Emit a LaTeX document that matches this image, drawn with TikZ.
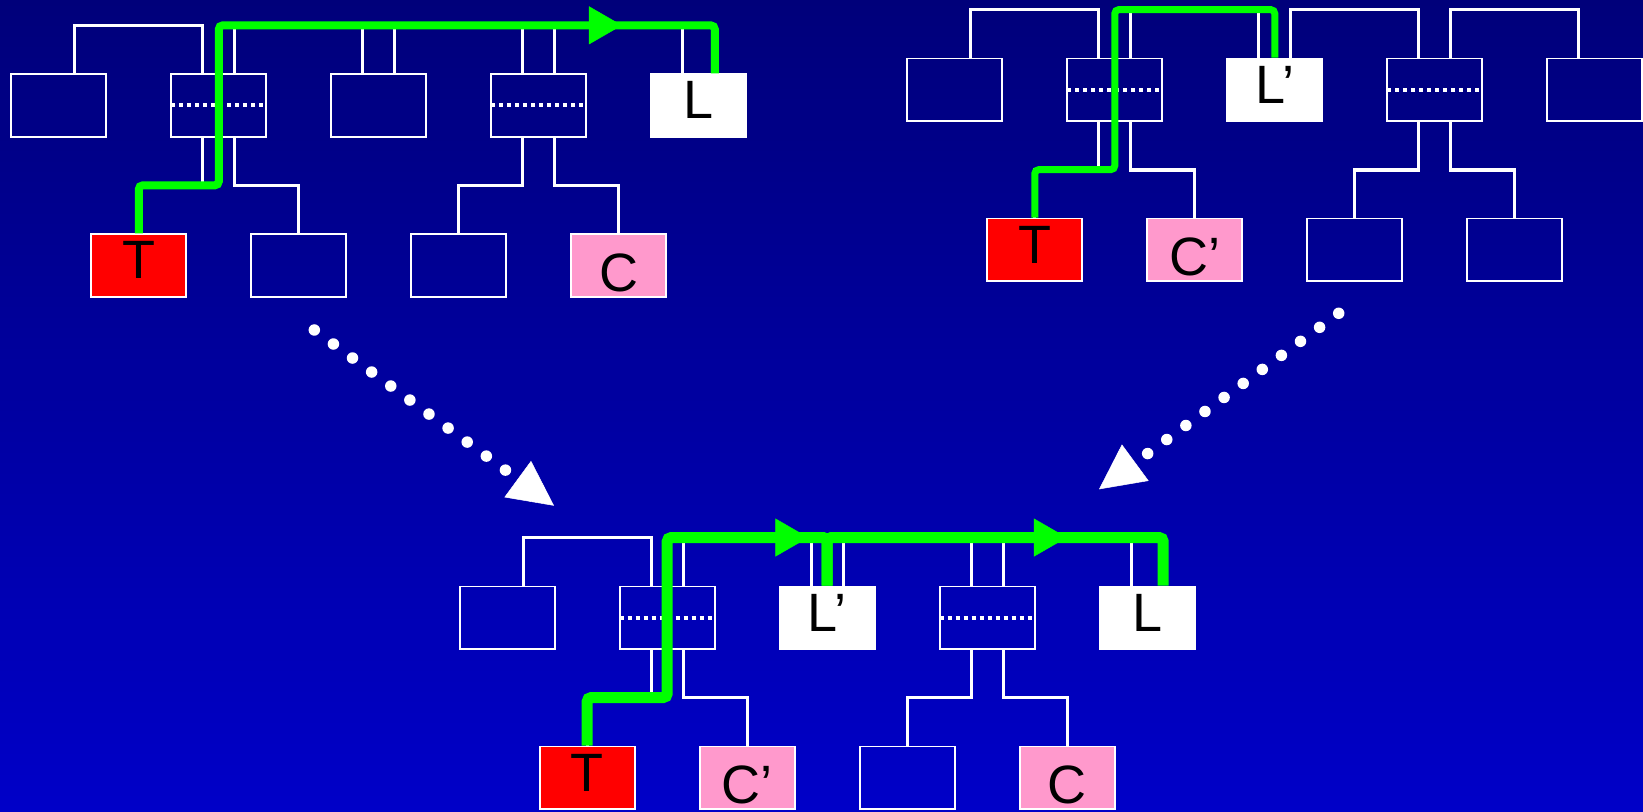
\documentclass[tikz,border=0pt]{standalone}
\usepackage{fontspec}
\setmainfont{Liberation Sans}
\usepackage{tikz}
\usetikzlibrary{arrows.meta,%
	decorations.markings}
\usetikzlibrary {positioning}
\usetikzlibrary{calc}
\definecolor{bgtop}{RGB}{0,0,122}
\definecolor{bgbot}{RGB}{0,0,200}
\definecolor{pinkbox}{RGB}{255,153,204}
\definecolor{pathgreen}{RGB}{0,255,0}

\begin{document}
\begin{tikzpicture}[x = 1pt, y = 1pt, node distance = 160pt, on grid,
	box/.style = {rectangle, draw = white, line width = 1.8pt, minimum width = 95pt, minimum height = 62.5pt, inner sep = 0pt, font = \fontsize{54pt}{60pt}\selectfont, text height = 27pt, text depth = 0pt},
	splitbox/.style = {box, path picture = {\draw[white, line width = 4pt, dash pattern = on 4pt off 4pt] (path picture bounding box.west) -- (path picture bounding box.east);}},
	lbox/.style = {box, fill = white},
	tbox/.style = {box, fill = red},
	cbox/.style = {box, fill = pinkbox, text height = 52pt},
	link/.style = {white, line width = 3.3pt},
	route/.style = {pathgreen, line width = 8pt, rounded corners = 4pt},
	flowmark/.style = {decoration = {markings, mark = at position #1 with {\arrow{Triangle[length = 33pt, width = 38pt, line width = 0.5pt]}}}, postaction = {decorate}},
	dotflow/.style = {white, line width = 11.5pt, line cap = round, dash pattern = on 0pt off 23.7pt, -{Triangle[length = 45pt, width = 45pt, line width = 0.5pt]}}]
	\useasboundingbox (0,0) rectangle (1643,811);
	\shade[top color = bgtop, bottom color = bgbot] (0,0) rectangle (1643,811);
	% upper left list
	\node[box] (u1) at (58.8,705.5) {};
	\node[splitbox] (u2) [right = of u1] {};
	\node[box] (u3) [right = of u2] {};
	\node[splitbox] (u4) [right = of u3] {};
	\node[lbox] (uL) [right = of u4] {L};
	\node[tbox] (uT) [below left = 160pt and 80pt of u2] {T};
	\node[box] (u6) [below right = 160pt and 80pt of u2] {};
	\node[box] (u7) [below left = 160pt and 80pt of u4] {};
	\node[cbox] (uC) [below right = 160pt and 80pt of u4] {C};
	\draw[link] ([xshift = 16pt]u1.north) -- ++(0,48) -| ([xshift = -16pt]u2.north);
	\draw[link] ([xshift = 16pt]u2.north) -- ++(0,48) -| ([xshift = -16pt]u3.north);
	\draw[link] ([xshift = 16pt]u3.north) -- ++(0,48) -| ([xshift = -16pt]u4.north);
	\draw[link] ([xshift = 16pt]u4.north) -- ++(0,48) -| ([xshift = -16pt]uL.north);
	\draw[link] ([xshift = -16pt]u2.south) -- ++(0,-48) -| (uT.north);
	\draw[link] ([xshift = 16pt]u2.south) -- ++(0,-48) -| (u6.north);
	\draw[link] ([xshift = -16pt]u4.south) -- ++(0,-48) -| (u7.north);
	\draw[link] ([xshift = 16pt]u4.south) -- ++(0,-48) -| (uC.north);
	\draw[route, flowmark = 686pt] (uT.north) -- ++(0,48) -| ([yshift = 48pt]u2.north) -| ([xshift = 16pt]uL.north);
	% upper right list
	\node[box] (v1) at (954.8,721.2) {};
	\node[splitbox] (v2) [right = of v1] {};
	\node[lbox] (vL) [right = of v2] {L’};
	\node[splitbox] (v4) [right = of vL] {};
	\node[box] (v5) [right = of v4] {};
	\node[tbox] (vT) [below left = 160pt and 80pt of v2] {T};
	\node[cbox] (vC) [below right = 160pt and 80pt of v2] {C’};
	\node[box] (v6) [below left = 160pt and 80pt of v4] {};
	\node[box] (v7) [below right = 160pt and 80pt of v4] {};
	\draw[link] ([xshift = 16pt]v1.north) -- ++(0,48) -| ([xshift = -16pt]v2.north);
	\draw[link] ([xshift = 16pt]v2.north) -- ++(0,48) -| ([xshift = -16pt]vL.north);
	\draw[link] ([xshift = 16pt]vL.north) -- ++(0,48) -| ([xshift = -16pt]v4.north);
	\draw[link] ([xshift = 16pt]v4.north) -- ++(0,48) -| ([xshift = -16pt]v5.north);
	\draw[link] ([xshift = -16pt]v2.south) -- ++(0,-48) -| (vT.north);
	\draw[link] ([xshift = 16pt]v2.south) -- ++(0,-48) -| (vC.north);
	\draw[link] ([xshift = -16pt]v4.south) -- ++(0,-48) -| (v6.north);
	\draw[link] ([xshift = 16pt]v4.south) -- ++(0,-48) -| (v7.north);
	\draw[route, line width = 7pt] (vT.north) -- ++(0,48) -| ([yshift = 48pt]v2.north) -| (vL.north);
	% merged list
	\node[box] (w1) at (507.2,193.3) {};
	\node[splitbox] (w2) [right = of w1] {};
	\node[lbox] (wLp) [right = of w2] {L’};
	\node[splitbox] (w4) [right = of wLp] {};
	\node[lbox] (wL) [right = of w4] {L};
	\node[tbox] (wT) [below left = 160pt and 80pt of w2] {T};
	\node[cbox] (wCp) [below right = 160pt and 80pt of w2] {C’};
	\node[box] (w6) [below left = 160pt and 80pt of w4] {};
	\node[cbox] (wC) [below right = 160pt and 80pt of w4] {C};
	\draw[link] ([xshift = 16pt]w1.north) -- ++(0,48) -| ([xshift = -16pt]w2.north);
	\draw[link] ([xshift = 16pt]w2.north) -- ++(0,48) -| ([xshift = -16pt]wLp.north);
	\draw[link] ([xshift = 16pt]wLp.north) -- ++(0,48) -| ([xshift = -16pt]w4.north);
	\draw[link] ([xshift = 16pt]w4.north) -- ++(0,48) -| ([xshift = -16pt]wL.north);
	\draw[link] ([xshift = -16pt]w2.south) -- ++(0,-48) -| (wT.north);
	\draw[link] ([xshift = 16pt]w2.south) -- ++(0,-48) -| (wCp.north);
	\draw[link] ([xshift = -16pt]w4.south) -- ++(0,-48) -| (w6.north);
	\draw[link] ([xshift = 16pt]w4.south) -- ++(0,-48) -| (wC.north);
	\draw[route, line width = 11pt, flowmark = 424pt] (wT.north) -- ++(0,48) -| ([yshift = 48pt]w2.north) -| (wLp.north);
	\draw[route, line width = 11pt, flowmark = 286pt] (wLp.north) -- ++(0,48) -| ([xshift = 16pt]wL.north);
	% dotted arrows
	\coordinate (s1) at (314.3,481);
	\coordinate (e1) at (554,305.3);
	\coordinate (s2) at (1338.7,497.7);
	\coordinate (e2) at (1099,321.7);
	\draw[dotflow] (s1) -- (e1);
	\draw[dotflow] (s2) -- (e2);
\end{tikzpicture}
\end{document}
